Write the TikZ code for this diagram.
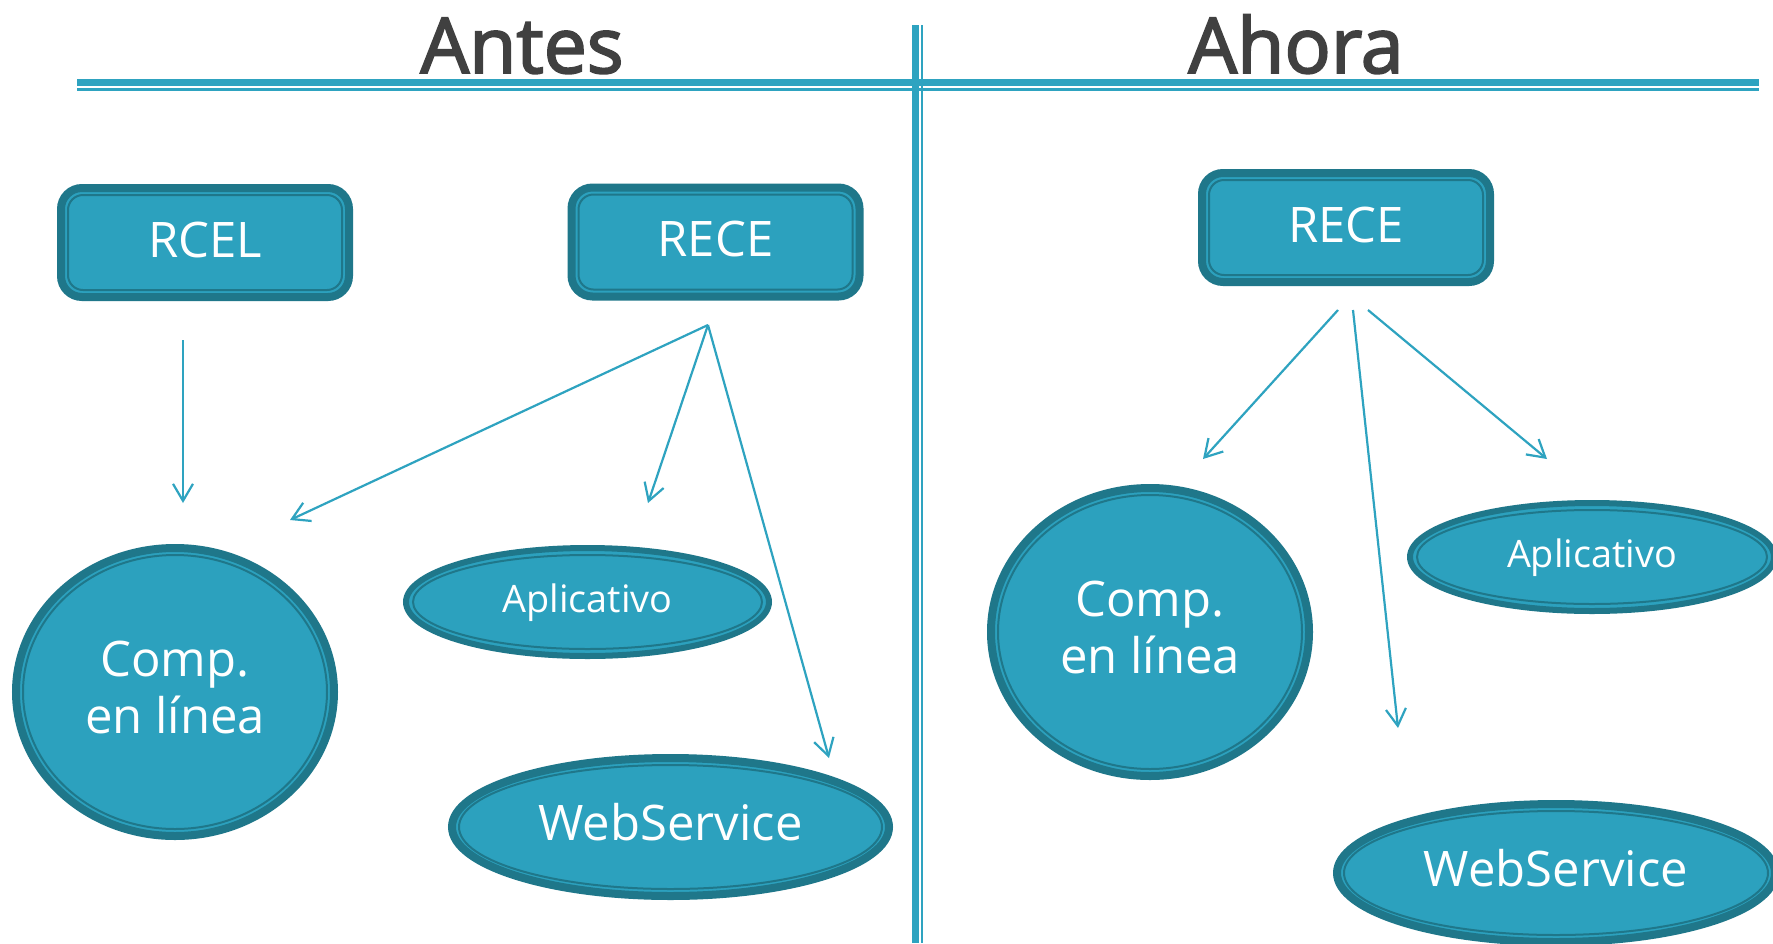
\documentclass[tikz,border=0pt]{standalone}
\usepackage{fontspec}
\setmainfont{Open Sans}
\newfontfamily\titlefont{Open Sans}[FakeBold=2.5]
\usetikzlibrary{arrows.meta,shapes.geometric}
\definecolor{mainfill}{HTML}{2CA1BE}
\definecolor{darkb}{HTML}{1F778A}
\definecolor{linecol}{HTML}{2EA3C0}
\definecolor{titlecol}{HTML}{404040}
\tikzset{
  boxnode/.style={draw=darkb, fill=mainfill, line width=8pt, rounded corners=21pt, outer sep=0pt, inner sep=0pt,
    minimum width=288pt, minimum height=109pt, text=white, text depth=6pt, font=\fontsize{49}{57}\selectfont},
  ellnode/.style={ellipse, draw=darkb, fill=mainfill, line width=8pt, outer sep=0pt, inner sep=0pt,
    text=white, align=center, text depth=10pt, font=\fontsize{49}{57}\selectfont},
  smallell/.style={ellnode, line width=6pt, text depth=8pt, font=\fontsize{37.8}{44}\selectfont},
  innerline/.style={draw=darkb, line width=2pt},
  conn/.style={draw=linecol, line width=2.2pt, -{Straight Barb[length=17pt,width=20pt,line width=2.2pt]}},
  titlenode/.style={anchor=base, text=titlecol, font=\titlefont\fontsize{77}{90}\selectfont},
  rule/.style={draw=linecol}
}
\newcommand{\innerbox}[1]{\draw[innerline,rounded corners=15pt] ([shift={(7,-7)}]#1.south west) rectangle ([shift={(-7,7)}]#1.north east);}
\newcommand{\innerell}[3]{\draw[innerline] (#1.center) ellipse [x radius=#2, y radius=#3];}
\begin{document}
\begin{tikzpicture}[x=1pt,y=-1pt]
\useasboundingbox[fill=white] (0,0) rectangle (1773,943);

% titles
\node[titlenode] (tantes) at (522,73) {Antes};
\node[titlenode] (tahora) at (1296,73) {Ahora};

% rules
\draw[rule, line width=7pt] (77,82.5) -- (1759,82.5);
\draw[rule, line width=3pt] (77,89.5) -- (1759,89.5);
\draw[rule, line width=7pt] (915.5,25) -- (915.5,943);
\draw[rule, line width=2.5pt] (922,25) -- (922,943);

% left side
\node[boxnode] (rcel) at (205,242.5) {RCEL};
\innerbox{rcel}
\node[boxnode] (receL) at (715.5,242) {RECE};
\innerbox{receL}

\node[ellnode, minimum width=318pt, minimum height=288pt] (compL) at (175,692) {Comp.\\en línea};
\innerell{compL}{152}{137}
\node[smallell, minimum width=363pt, minimum height=108pt] (apL) at (587.5,602) {Aplicativo};
\innerell{apL}{174.5}{47}
\node[ellnode, minimum width=437pt, minimum height=138pt] (wsL) at (670.5,827) {WebService};
\innerell{wsL}{211.5}{62}

% right side
\node[boxnode] (receR) at (1346,227.5) {RECE};
\innerbox{receR}
\node[ellnode, minimum width=318pt, minimum height=288pt] (compR) at (1150,632) {Comp.\\en línea};
\innerell{compR}{152}{137}
\node[smallell, minimum width=364pt, minimum height=108pt] (apR) at (1592,557) {Aplicativo};
\innerell{apR}{175}{47}
\node[ellnode, minimum width=438pt, minimum height=138pt] (wsR) at (1556,873) {WebService};
\innerell{wsR}{212}{62}

% connector ends
\coordinate (rcelS) at (183,340);
\coordinate (rcelE) at (183,503);
\coordinate (receLS) at (708,325);
\coordinate (toCompL) at (290,520);
\coordinate (toApL) at (648,503);
\coordinate (toWsL) at (829,758);
\coordinate (r1s) at (1338,310);
\coordinate (r1e) at (1203,459);
\coordinate (r2s) at (1353,310);
\coordinate (r2e) at (1398,728);
\coordinate (r3s) at (1368,310);
\coordinate (r3e) at (1547,459);

\draw[conn] (rcelS) -- (rcelE);
\draw[conn] (receLS) -- (toCompL);
\draw[conn] (receLS) -- (toApL);
\draw[conn] (receLS) -- (toWsL);
\draw[conn] (r1s) -- (r1e);
\draw[conn] (r2s) -- (r2e);
\draw[conn] (r3s) -- (r3e);
\end{tikzpicture}
\end{document}
